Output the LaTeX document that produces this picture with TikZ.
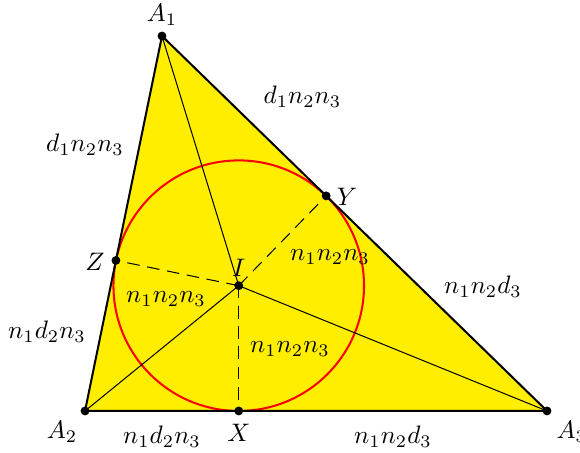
\documentclass[tikz,border=0pt]{standalone}
\usepackage{amsmath}
\usepackage{tikz}
\usepackage{xcolor}
\usetikzlibrary{positioning, calc}
\definecolor{TriYellow}{HTML}{FFEE00}

\tikzset{
    vertex/.style={circle, fill=black, inner sep=0pt, minimum size=3.5pt},
    side/.style={thick},
    touch/.style={dash pattern=on 5pt off 3pt},
}

\begin{document}
\begin{tikzpicture}
    \useasboundingbox (-1.181,-0.583) rectangle (6.875,5.708);

    % Vertices and incenter
    \coordinate (A2) at (0,0);
    \coordinate (A3) at (6.417,0);
    \coordinate (A1) at (1.069,5.208);
    \coordinate (I) at (2.135,1.740);

    % Touch points
    \coordinate (X) at ($(A2)!(I)!(A3)$);
    \coordinate (Y) at ($(A1)!(I)!(A3)$);
    \coordinate (Z) at ($(A1)!(I)!(A2)$);

    % Fill triangle
    \fill[TriYellow] (A1) -- (A2) -- (A3) -- cycle;

    % Incircle
    \draw[red, thick] (I) circle (1.740);

    % Lines to incenter
    \draw (A1) -- (I);
    \draw (A2) -- (I);
    \draw (A3) -- (I);
    \draw[touch] (I) -- (X);
    \draw[touch] (I) -- (Y);
    \draw[touch] (I) -- (Z);

    % Sides
    \draw[side] (A1) -- (A2) -- (A3) -- cycle;

    % Dots
    \foreach \p in {A1,A2,A3,I,X,Y,Z} {
        \node[vertex] (d\p) at (\p) {};
    }

    % Point labels
    \node (lA1) at (1.069,5.5) {$A_1$};
    \node (lA2) at (-0.319,-0.292) {$A_2$};
    \node (lA3) at (6.76,-0.29) {$A_3$};
    \node (lX) at (2.135,-0.31) {$X$};
    \node (lY) at (3.639,2.972) {$Y$};
    \node (lZ) at (0.139,2.069) {$Z$};
    \node (lI) at (2.135,1.986) {$I$};

    % Segment labels
    \node (s1) at (0.0,3.694) {$d_1n_2n_3$};
    \node (s2) at (3.02,4.361) {$d_1n_2n_3$};
    \node (s3) at (5.528,1.722) {$n_1n_2d_3$};
    \node (s4) at (-0.528,1.097) {$n_1d_2n_3$};
    \node (s5) at (1.069,-0.361) {$n_1d_2n_3$};
    \node (s6) at (4.278,-0.361) {$n_1n_2d_3$};
    \node (r1) at (1.125,1.556) {$n_1n_2n_3$};
    \node (r2) at (3.403,2.139) {$n_1n_2n_3$};
    \node (r3) at (2.847,0.861) {$n_1n_2n_3$};
\end{tikzpicture}
\end{document}
